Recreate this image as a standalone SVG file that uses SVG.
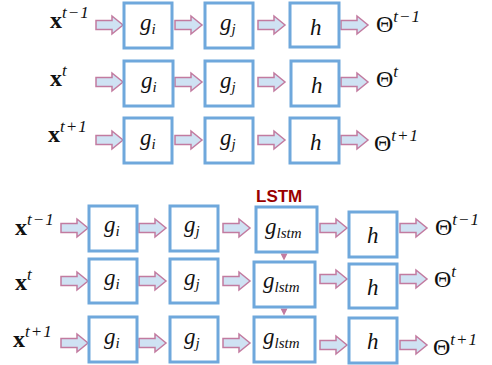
<svg xmlns="http://www.w3.org/2000/svg" width="492" height="365" viewBox="0 0 492 365">
<style>
.box{fill:#fff;stroke:#6fa8dc;stroke-width:3}
.arr{fill:#cfe2f3;stroke:#c27ba0;stroke-width:1.5;stroke-linejoin:miter}
.m{font-style:italic;font-size:23px;fill:#111}
.sub{font-size:15px}
.xb{font-weight:bold;font-size:24px;fill:#111}
.sup{font-style:italic;font-weight:normal;font-size:17px;letter-spacing:1px}
.th{font-size:24px;fill:#111}
.lstm{font-family:"Liberation Sans",Arial,sans-serif;font-weight:bold;font-size:17px;fill:#990000}
.tri{fill:#c27ba0}
</style>
<defs>
<path id="a" class="arr" d="M0,-4.5H16V-9L27,0L16,9V4.5H0Z"/>
</defs>
<g id="connectors">
<use href="#a" x="96" y="25"/><use href="#a" x="175" y="25"/><use href="#a" x="258" y="25"/><use href="#a" x="341" y="25"/>
<use href="#a" x="96" y="82"/><use href="#a" x="175" y="82"/><use href="#a" x="258" y="82"/><use href="#a" x="341" y="82"/>
<use href="#a" x="96" y="140"/><use href="#a" x="175" y="140"/><use href="#a" x="258" y="140"/><use href="#a" x="341" y="140"/>
<use href="#a" x="61" y="228"/><use href="#a" x="139" y="228"/><use href="#a" x="223" y="228"/><use href="#a" x="320" y="228"/><use href="#a" x="400" y="228"/>
<use href="#a" x="61" y="281"/><use href="#a" x="139" y="281"/><use href="#a" x="223" y="281"/><use href="#a" x="320" y="279"/><use href="#a" x="400" y="279"/>
<use href="#a" x="61" y="343"/><use href="#a" x="139" y="343"/><use href="#a" x="223" y="343"/><use href="#a" x="320" y="345"/><use href="#a" x="400" y="345"/>
<path class="tri" d="M280.5,253.5h7l-3.5,7z"/>
<path class="tri" d="M280.5,308.5h7l-3.5,7z"/>
</g>
<g font-family="Liberation Serif, DejaVu Serif, serif">
<g id="labels">
<text class="xb" x="50" y="28">x<tspan class="sup" dy="-10">t−1</tspan></text>
<text class="xb" x="50" y="86">x<tspan class="sup" dy="-10">t</tspan></text>
<text class="xb" x="48" y="142">x<tspan class="sup" dy="-10">t+1</tspan></text>
<text class="th" x="376" y="32">Θ<tspan class="sup" dy="-10">t−1</tspan></text>
<text class="th" x="376" y="87">Θ<tspan class="sup" dy="-10">t</tspan></text>
<text class="th" x="374" y="151">Θ<tspan class="sup" dy="-10">t+1</tspan></text>
<text class="xb" x="15" y="235">x<tspan class="sup" dy="-10">t−1</tspan></text>
<text class="xb" x="15" y="290">x<tspan class="sup" dy="-10">t</tspan></text>
<text class="xb" x="13" y="347">x<tspan class="sup" dy="-10">t+1</tspan></text>
<text class="th" x="435" y="235">Θ<tspan class="sup" dy="-10">t−1</tspan></text>
<text class="th" x="434" y="287">Θ<tspan class="sup" dy="-10">t</tspan></text>
<text class="th" x="433" y="355">Θ<tspan class="sup" dy="-10">t+1</tspan></text>
<text class="lstm" x="256" y="202">LSTM</text>
</g>
<g id="top-r1-gi"><rect class="box" x="124" y="3" width="48" height="45"/><text class="m" x="140" y="30">g<tspan class="sub" dy="4">i</tspan></text></g>
<g id="top-r1-gj"><rect class="box" x="205" y="3" width="48" height="45"/><text class="m" x="220" y="30">g<tspan class="sub" dy="4">j</tspan></text></g>
<g id="top-r1-h"><rect class="box" x="290" y="3" width="49" height="44"/><text class="m" x="310" y="35">h</text></g>
<g id="top-r2-gi"><rect class="box" x="124" y="61" width="49" height="45"/><text class="m" x="141" y="88">g<tspan class="sub" dy="4">i</tspan></text></g>
<g id="top-r2-gj"><rect class="box" x="205" y="61" width="48" height="45"/><text class="m" x="220" y="88">g<tspan class="sub" dy="4">j</tspan></text></g>
<g id="top-r2-h"><rect class="box" x="291" y="61" width="48" height="45"/><text class="m" x="311" y="93">h</text></g>
<g id="top-r3-gi"><rect class="box" x="124" y="118" width="48" height="45"/><text class="m" x="140" y="145">g<tspan class="sub" dy="4">i</tspan></text></g>
<g id="top-r3-gj"><rect class="box" x="205" y="118" width="48" height="45"/><text class="m" x="220" y="145">g<tspan class="sub" dy="4">j</tspan></text></g>
<g id="top-r3-h"><rect class="box" x="290" y="118" width="49" height="45"/><text class="m" x="310" y="150">h</text></g>
<g id="bot-r1-gi"><rect class="box" x="89" y="206" width="48" height="45"/><text class="m" x="104" y="232">g<tspan class="sub" dy="4">i</tspan></text></g>
<g id="bot-r1-gj"><rect class="box" x="170" y="206" width="48" height="45"/><text class="m" x="184" y="232">g<tspan class="sub" dy="4">j</tspan></text></g>
<g id="bot-r1-lstm"><rect class="box" x="256" y="207" width="61" height="45"/><text class="m" x="265" y="234">g<tspan class="sub" dy="4">lstm</tspan></text></g>
<g id="bot-r1-h"><rect class="box" x="349" y="212" width="48" height="45"/><text class="m" x="367" y="243">h</text></g>
<g id="bot-r2-gi"><rect class="box" x="89" y="259" width="48" height="44"/><text class="m" x="104" y="285">g<tspan class="sub" dy="4">i</tspan></text></g>
<g id="bot-r2-gj"><rect class="box" x="170" y="259" width="48" height="44"/><text class="m" x="184" y="285">g<tspan class="sub" dy="4">j</tspan></text></g>
<g id="bot-r2-lstm"><rect class="box" x="254" y="262" width="61" height="45"/><text class="m" x="263" y="288">g<tspan class="sub" dy="4">lstm</tspan></text></g>
<g id="bot-r2-h"><rect class="box" x="349" y="264" width="48" height="44"/><text class="m" x="367" y="295">h</text></g>
<g id="bot-r3-gi"><rect class="box" x="89" y="317" width="48" height="45"/><text class="m" x="104" y="344">g<tspan class="sub" dy="4">i</tspan></text></g>
<g id="bot-r3-gj"><rect class="box" x="170" y="317" width="48" height="45"/><text class="m" x="184" y="344">g<tspan class="sub" dy="4">j</tspan></text></g>
<g id="bot-r3-lstm"><rect class="box" x="254" y="317" width="61" height="45"/><text class="m" x="263" y="344">g<tspan class="sub" dy="4">lstm</tspan></text></g>
<g id="bot-r3-h"><rect class="box" x="349" y="318" width="48" height="45"/><text class="m" x="367" y="349">h</text></g>
</g>
</svg>
